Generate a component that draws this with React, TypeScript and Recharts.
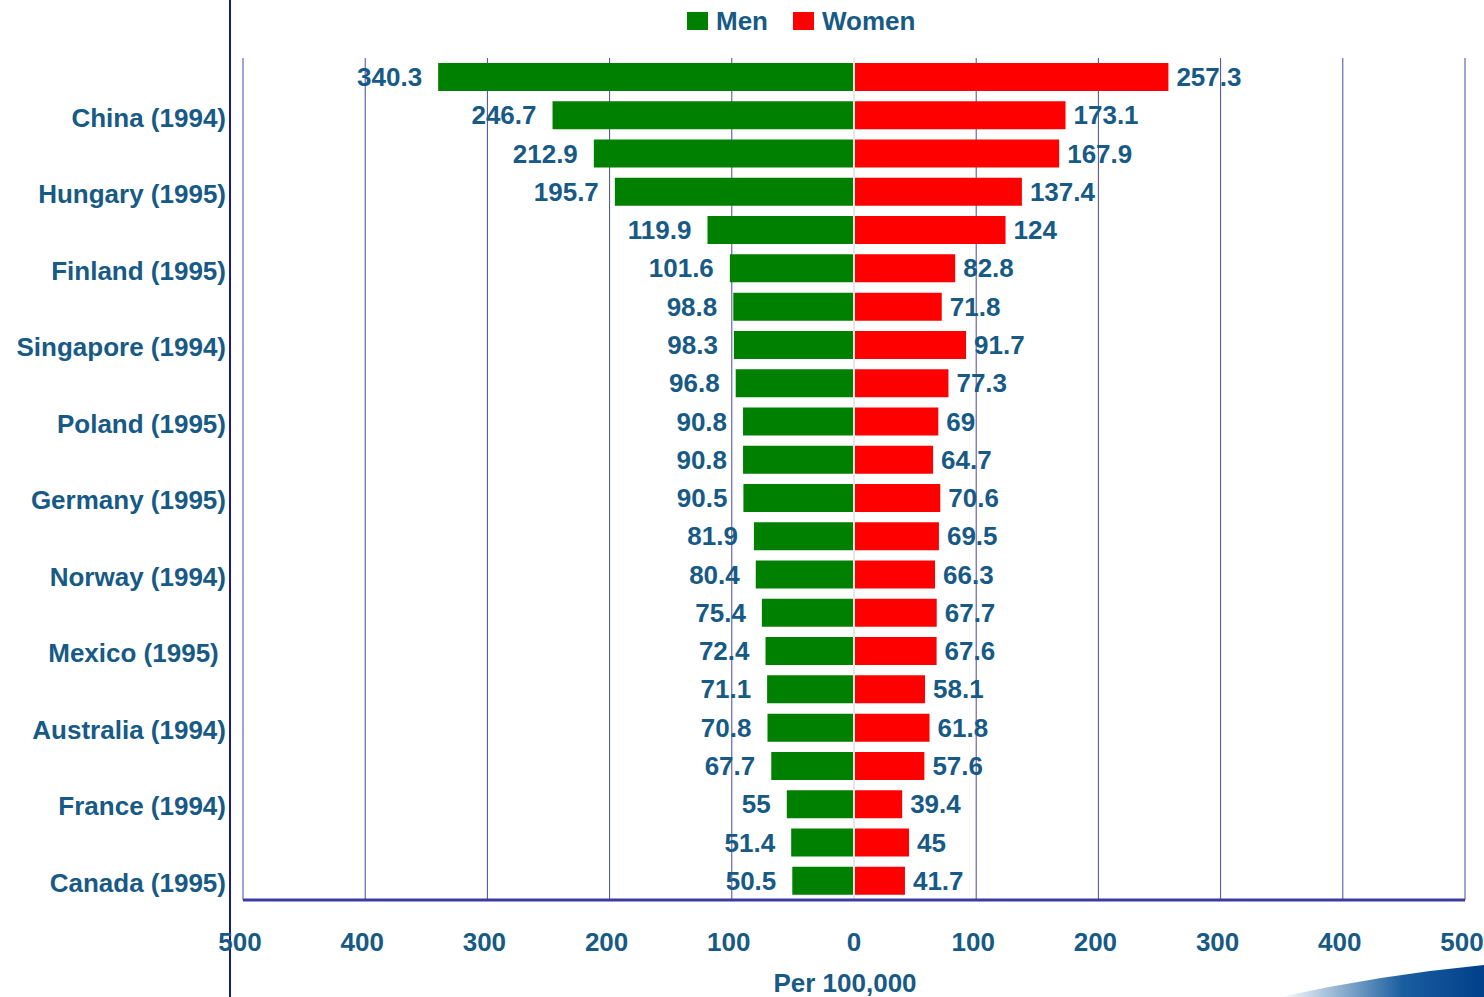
import React from 'react'
import {
  BarChart,
  Bar,
  XAxis,
  YAxis,
  CartesianGrid,
  Legend,
  LabelList,
  ReferenceLine,
} from 'recharts'

// only every second row carries a name in the original
const countries = [
  '', 'China (1994)', '', 'Hungary (1995)', '', 'Finland (1995)', '', 'Singapore (1994)',
  '', 'Poland (1995)', '', 'Germany (1995)', '', 'Norway (1994)', '', 'Mexico (1995) ',
  '', 'Australia (1994)', '', 'France (1994)', '', 'Canada (1995)',
]
const men = [
  340.3, 246.7, 212.9, 195.7, 119.9, 101.6, 98.8, 98.3, 96.8, 90.8, 90.8,
  90.5, 81.9, 80.4, 75.4, 72.4, 71.1, 70.8, 67.7, 55, 51.4, 50.5,
]
const women = [
  257.3, 173.1, 167.9, 137.4, 124, 82.8, 71.8, 91.7, 77.3, 69, 64.7,
  70.6, 69.5, 66.3, 67.7, 67.6, 58.1, 61.8, 57.6, 39.4, 45, 41.7,
]
const xTicks = [-500, -400, -300, -200, -100, 0, 100, 200, 300, 400, 500]

const TEXT = '#175a85'
const FONT = '"Liberation Sans", Arial, sans-serif'

const data = countries.map((c, i) => ({
  row: i,
  country: c,
  men: men[i],
  menNeg: -men[i],
  women: women[i],
}))

function MenLabel(props: any) {
  const { x, y, width, height, value } = props
  const left = Math.min(x, x + width)
  return (
    <text x={left - 16} y={y + height / 2} dy="0.35em" textAnchor="end"
      fill={TEXT} fontSize={26} fontWeight="bold" fontFamily={FONT}>
      {value}
    </text>
  )
}

function WomenLabel(props: any) {
  const { x, y, width, height, value } = props
  const right = Math.max(x, x + width)
  return (
    <text x={right + 8} y={y + height / 2} dy="0.35em" textAnchor="start"
      fill={TEXT} fontSize={26} fontWeight="bold" fontFamily={FONT}>
      {value}
    </text>
  )
}

function CountryTick(props: any) {
  const { x, y, payload } = props
  return (
    <text x={x - 17} y={y + 2} dy="0.35em" textAnchor="end" fill={TEXT}
      fontSize={26} fontWeight="bold" fontFamily={FONT} style={{ whiteSpace: 'pre' }}>
      {countries[payload.value]}
    </text>
  )
}

function ValueTick(props: any) {
  const { x, y, payload } = props
  return (
    <text x={payload.value === 0 ? x : x - 3} y={y + 51} textAnchor="middle" fill={TEXT}
      fontSize={26} fontWeight="bold" fontFamily={FONT}>
      {Math.abs(payload.value)}
    </text>
  )
}

function LegendContent() {
  const items = [
    { name: 'Men', color: '#008000' },
    { name: 'Women', color: '#ff0000' },
  ]
  return (
    <div style={{ display: 'flex', height: 30, alignItems: 'center', fontFamily: FONT }}>
      {items.map((it) => (
        <div key={it.name} style={{ display: 'flex', alignItems: 'center', marginRight: 25 }}>
          <span style={{ width: 21, height: 18, background: it.color, marginRight: 8 }} />
          <span style={{ color: TEXT, fontSize: 26, fontWeight: 'bold' }}>{it.name}</span>
        </div>
      ))}
    </div>
  )
}

export default function App() {
  return (
    <div style={{ position: 'absolute', left: 0, top: 0, width: 1484, height: 997, background: '#fff', overflow: 'hidden' }}>
      <div style={{ position: 'absolute', left: 229, top: 0, width: 2, height: 997, background: '#1a1a8e' }} />
      <svg width={1484} height={997} style={{ position: 'absolute', left: 0, top: 0 }}>
        <defs>
          <linearGradient id="swoosh" x1="0" y1="0" x2="1" y2="0">
            <stop offset="0" stopColor="#ffffff" />
            <stop offset="0.6" stopColor="#1a5ea0" />
            <stop offset="1" stopColor="#003f8a" />
          </linearGradient>
        </defs>
        <path d="M1280 997 Q1380 975 1484 965 L1484 997 Z" fill="url(#swoosh)" />
      </svg>
      <BarChart
        width={1484}
        height={997}
        data={data}
        layout="vertical"
        stackOffset="sign"
        barSize={28}
        margin={{ top: 28, right: 19, bottom: 0, left: 0 }}
        style={{ position: 'absolute', left: 0, top: 0 }}
      >
        <CartesianGrid horizontal={false} stroke="#4848a8" strokeWidth={1} />
        <XAxis
          type="number"
          domain={[-500, 500]}
          ticks={xTicks}
          interval={0}
          height={97}
          tickLine={false}
          tickSize={0}
          tickMargin={0}
          axisLine={{ stroke: '#3b3ba6', strokeWidth: 3 }}
          tick={<ValueTick />}
          label={{
            content: (p: any) => {
              const vb = p.viewBox
              return (
                <text x={vb.x + vb.width / 2 - 9} y={992} textAnchor="middle" fill={TEXT}
                  fontSize={26} fontWeight="bold" fontFamily={FONT}>
                  Per 100,000
                </text>
              )
            },
          }}
        />
        <YAxis
          type="category"
          dataKey="row"
          width={243}
          interval={0}
          axisLine={false}
          tickLine={false}
          tickSize={0}
          tickMargin={0}
          tick={<CountryTick />}
        />
        <Legend verticalAlign="top" content={<LegendContent />}
          wrapperStyle={{ top: 6, left: 687, width: 'auto' }} />
        <Bar dataKey="menNeg" name="Men" stackId="a" fill="#008000" isAnimationActive={false}>
          <LabelList dataKey="men" content={<MenLabel />} />
        </Bar>
        <Bar dataKey="women" name="Women" stackId="a" fill="#ff0000" isAnimationActive={false}>
          <LabelList dataKey="women" content={<WomenLabel />} />
        </Bar>
        <ReferenceLine x={0} stroke="#e6e6e6" strokeWidth={2} />
      </BarChart>
    </div>
  )
}
